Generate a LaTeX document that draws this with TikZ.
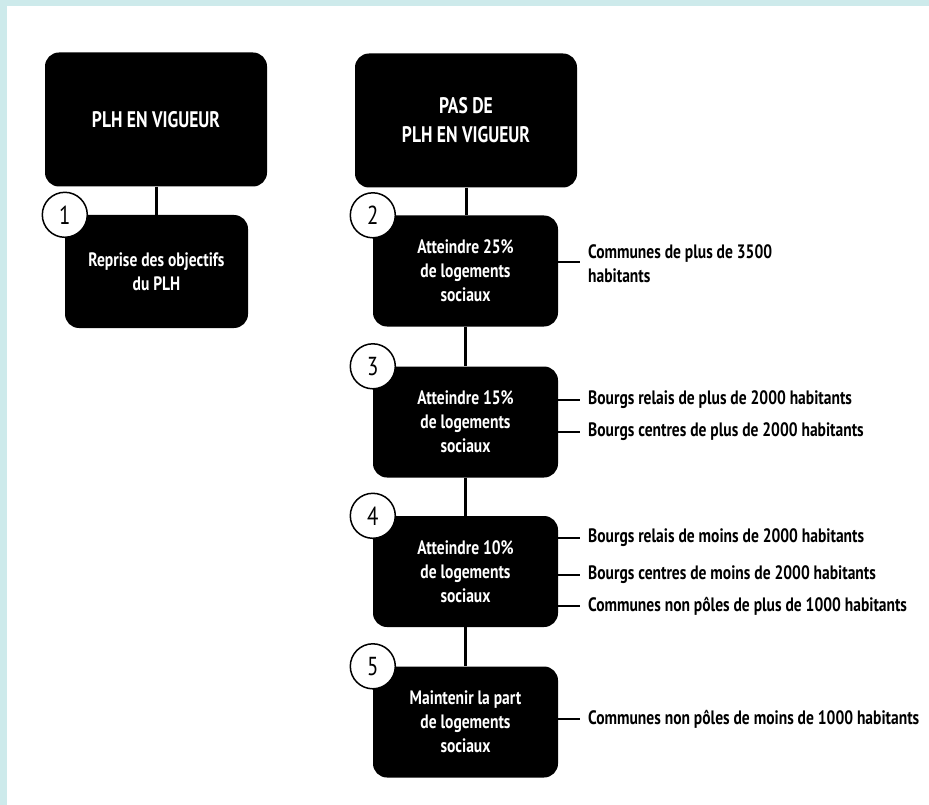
\documentclass[tikz,border=0pt]{standalone}
\usepackage{fontspec}
\setmainfont{PT Sans}[FakeStretch=0.8]
\newfontfamily\headfam{PT Sans}[FakeStretch=0.78]
\definecolor{cyanbg}{RGB}{205,234,235}
\newcommand{\myBody}{\fontsize{19.4}{24}\selectfont}
\newcommand{\myHead}{\headfam\fontsize{22.5}{29}\selectfont}
\newcommand{\myNum}{\fontsize{26}{28}\selectfont}
\begin{document}
\begin{tikzpicture}[x=1pt,y=-1pt,
  box/.style={fill=black, rounded corners=14pt, minimum width=185pt, minimum height=111pt,
    text=white, align=center, font=\myBody\bfseries, inner sep=0pt},
  head/.style={box, minimum width=222pt, minimum height=134pt, font=\myHead\bfseries},
  num/.style={circle, draw=black, line width=1.5pt, fill=white, minimum size=45pt,
    inner sep=0pt, font=\myNum},
  conn/.style={line width=3pt},
  lab/.style={anchor=west, align=left, inner sep=0pt, font=\myBody\bfseries, text=black},
  labline/.style={line width=2pt}]
\useasboundingbox (0,0) rectangle (929,805);
\fill[cyanbg] (0,0) rectangle (929,805);
\fill[white] (7,6) rectangle (929,805);

% headers and boxes
\node[head] (h1) at (156,119.5) {PLH EN VIGUEUR};
\node[head] (h2) at (466,120.5) {PAS DE\\PLH EN VIGUEUR};
\node[box, minimum width=183pt, minimum height=113pt] (b1) at (156.5,271.5) {Reprise des objectifs\\du PLH};
\node[box] (b2) at (465.5,271) {Atteindre 25\%\\de logements\\sociaux};
\node[box] (b3) at (465.5,422) {Atteindre 15\%\\de logements\\sociaux};
\node[box] (b4) at (465.5,571.5) {Atteindre 10\%\\de logements\\sociaux};
\node[box] (b5) at (465.5,722) {Maintenir la part\\de logements\\sociaux};

% connectors
\draw[conn] (h1.south) -- (h1.south |- b1.north);
\draw[conn] (h2.south) -- (h2.south |- b2.north);
\draw[conn] (b2.south) -- (b3.north);
\draw[conn] (b3.south) -- (b4.north);
\draw[conn] (b4.south) -- (b5.north);

% numbers
\node[num] (n1) at (b1.north west) {1};
\node[num] (n2) at (b2.north west) {2};
\node[num] (n3) at (b3.north west) {3};
\node[num] (n4) at (b4.north west) {4};
\node[num] (n5) at (b5.north west) {5};

% labels
\node[lab] (l2) at (588,264) {Communes de plus de 3500\\habitants};
\node[lab] (l3a) at (588,400) {Bourgs relais de plus de 2000 habitants};
\node[lab] (l3b) at (588,432) {Bourgs centres de plus de 2000 habitants};
\node[lab] (l4a) at (588,538) {Bourgs relais de moins de 2000 habitants};
\node[lab] (l4b) at (588,575) {Bourgs centres de moins de 2000 habitants};
\node[lab] (l4c) at (588,606) {Communes non pôles de plus de 1000 habitants};
\node[lab] (l5) at (588,719) {Communes non pôles de moins de 1000 habitants};

\foreach \b/\l in {b3/l3a, b3/l3b, b4/l4a, b4/l4b, b4/l4c, b5/l5}
  \draw[labline] (\b.east |- \l.west) -- ([xshift=-8pt]\l.west);
\draw[labline] ([yshift=2pt]b2.east |- l2.west) -- ([xshift=-8pt,yshift=2pt]l2.west);
\end{tikzpicture}
\end{document}
